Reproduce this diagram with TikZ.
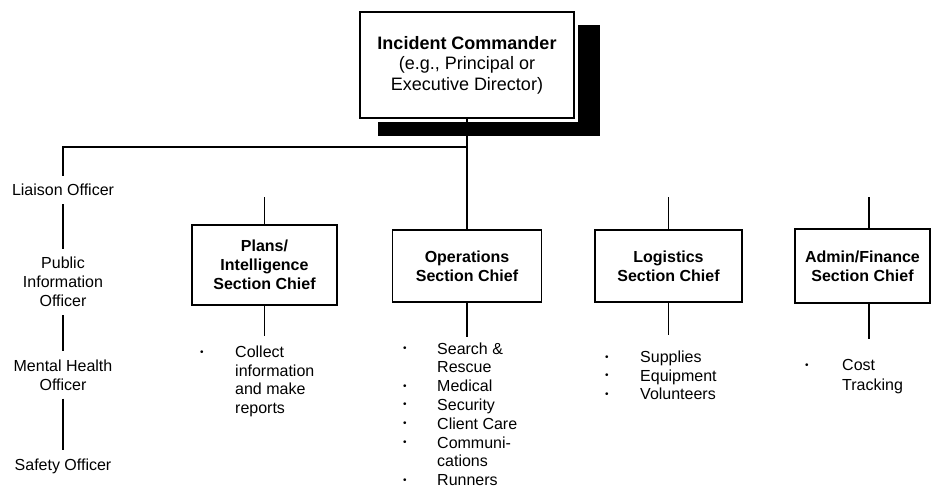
\documentclass[tikz,border=0pt]{standalone}
\usepackage{fontspec}
\setmainfont{Liberation Sans}
\usetikzlibrary{calc}
\usetikzlibrary{shadows}
\newcommand{\bul}{\raisebox{2.5pt}{\fontsize{10}{10}\selectfont\textbullet}}
\tikzset{every node/.style={align=center,
           font=\fontsize{16}{19}\selectfont},
         chief/.style={ % section chief boxes
           draw, line width=1.6pt, fill=white, inner sep=0pt,
           font=\fontsize{16}{19}\selectfont\bfseries},
         staff/.style={inner sep=8pt},
         itemlist/.style={anchor=base west, inner sep=0pt, align=left},
         link/.style={draw, line width=1.6pt}}
\begin{document}
\begin{tikzpicture}[x=1pt, y=-1pt]
  \useasboundingbox (0,0) rectangle (931,491);

  \node [chief, minimum width=214pt, minimum height=106pt,
         general shadow={fill=black, shadow scale=1.04,
                         shadow xshift=21pt, shadow yshift=-15pt},
         preaction={draw=white, line width=7pt},
         font=\fontsize{18}{20.5}\selectfont] (ic) at (467,65)
    {\textbf{Incident Commander}\\(e.g., Principal or\\Executive Director)};

  % command staff
  \node [staff] (liaison) at (63,190) {Liaison Officer};
  \node [staff] (pio) at (63,282) {Public\\Information\\Officer};
  \node [staff] (mho) at (63,375) {Mental Health\\Officer};
  \node [staff] (safety) at (63,466) {Safety Officer};

  % general staff
  \node [chief, minimum width=145pt, minimum height=80pt] (plans) at (264.5,265)
    {Plans/\\Intelligence\\Section Chief};
  \node [chief, minimum width=149pt, minimum height=72pt] (ops) at (467,266)
    {Operations\\Section Chief};
  \node [chief, minimum width=147pt, minimum height=72pt] (logs) at (668.5,266)
    {Logistics\\Section Chief};
  \node [chief, minimum width=135pt, minimum height=74pt] (admin) at (862.5,266)
    {Admin/Finance\\Section Chief};

  \coordinate (bus) at (467,147);
  \coordinate (plansup) at (264.5,197);
  \coordinate (logsup) at (668.5,197);
  \coordinate (adminup) at (869,197);
  \coordinate (plansdn) at (264.5,336);
  \coordinate (opsdn) at (467,337);
  \coordinate (logsdn) at (668.5,335);
  \coordinate (admindn) at (869,339);

  \draw [link] (ic.south) -- (ops.north);
  \draw [link] (liaison.north) |- (bus);
  \draw [link] (liaison) -- (pio);
  \draw [link] (pio) -- (mho);
  \draw [link] (mho) -- (safety);

  \draw [link] (plansup) -- (plans);
  \draw [link] (logsup) -- (logs);
  \draw [link] (adminup) -- (admin.north -| adminup);
  \draw [link] (plans) -- (plansdn);
  \draw [link] (ops) -- (opsdn);
  \draw [link] (logs) -- (logsdn);
  \draw [link] (admin.south -| admindn) -- (admindn);

  % duties
  \node [itemlist, font=\fontsize{16}{18.7}\selectfont] (plansjobs) at (200,357.5)
    {\begin{tabular}[t]{@{}p{35pt}@{}l@{}}
      \bul & Collect\\ & information\\ & and make\\ & reports
    \end{tabular}};
  \node [itemlist, font=\fontsize{16}{18.8}\selectfont] (opsjobs) at (403,354)
    {\begin{tabular}[t]{@{}p{34pt}@{}l@{}}
      \bul & Search \&\\ & Rescue\\ \bul & Medical\\ \bul & Security\\
      \bul & Client Care\\ \bul & Communi-\\ & cations\\ \bul & Runners
    \end{tabular}};
  \node [itemlist, font=\fontsize{16}{18.5}\selectfont] (logsjobs) at (605,362.5)
    {\begin{tabular}[t]{@{}p{35pt}@{}l@{}}
      \bul & Supplies\\ \bul & Equipment\\ \bul & Volunteers
    \end{tabular}};
  \node [itemlist, font=\fontsize{16}{20}\selectfont] (adminjobs) at (805,370.5)
    {\begin{tabular}[t]{@{}p{37pt}@{}l@{}}
      \bul & Cost\\ & Tracking
    \end{tabular}};

\end{tikzpicture}
\end{document}
